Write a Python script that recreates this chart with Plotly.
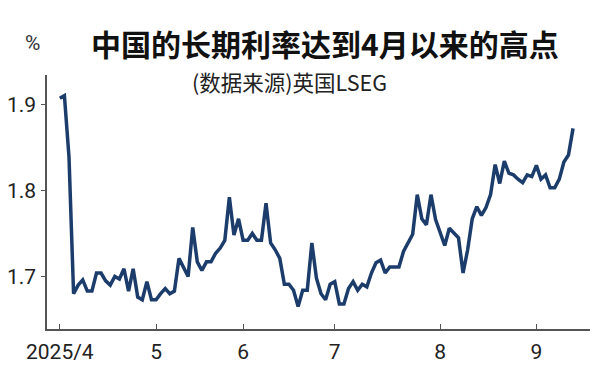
import pandas as pd
import plotly.graph_objects as go

# Trading days (China bond market), 2025-04-01 .. 2025-09-11
holidays = ["2025-04-04", "2025-05-01", "2025-05-02", "2025-05-05", "2025-06-02"]
days = pd.bdate_range("2025-04-01", "2025-09-11")
days = [d for d in days if d.strftime("%Y-%m-%d") not in holidays]
dates = [d.strftime("%Y-%m-%d") for d in days]

# 10-year yield (%)
yields = [
    1.907, 1.910, 1.839, 1.680, 1.690, 1.696, 1.683, 1.683, 1.704, 1.704,
    1.695, 1.690, 1.700, 1.697, 1.709, 1.683, 1.709, 1.676, 1.673, 1.694,
    1.673, 1.673, 1.680, 1.686, 1.680, 1.683, 1.721, 1.711, 1.700, 1.757,
    1.717, 1.707, 1.717, 1.717, 1.727, 1.733, 1.742, 1.792, 1.748, 1.767,
    1.742, 1.742, 1.750, 1.742, 1.742, 1.785, 1.739, 1.731, 1.721, 1.691,
    1.691, 1.684, 1.665, 1.684, 1.684, 1.739, 1.698, 1.680, 1.673, 1.691,
    1.694, 1.668, 1.668, 1.686, 1.694, 1.684, 1.691, 1.688, 1.704, 1.716,
    1.719, 1.704, 1.711, 1.711, 1.711, 1.729, 1.739, 1.749, 1.795, 1.767,
    1.760, 1.795, 1.766, 1.752, 1.736, 1.756, 1.750, 1.745, 1.704, 1.731,
    1.767, 1.781, 1.771, 1.780, 1.795, 1.830, 1.808, 1.834, 1.820, 1.818,
    1.813, 1.809, 1.818, 1.816, 1.829, 1.813, 1.818, 1.803, 1.803, 1.813,
    1.833, 1.841, 1.872,
]
dates = dates[:len(yields)]

tick_dates = ["2025-04-01", "2025-05-06", "2025-06-03", "2025-07-01", "2025-08-01", "2025-09-01"]
tick_labels = ["2025/4", "5", "6", "7", "8", "9"]
y_ticks = [1.7, 1.8, 1.9]
y_tick_labels = ["1.7", "1.8", "1.9"]

title_text = "中国的长期利率达到4月以来的高点"
source_text = "(数据来源)英国LSEG"
unit_text = "%"

num_font = "Roboto, Liberation Sans, sans-serif"
cjk_font = "Noto Sans CJK SC, sans-serif"

fig = go.Figure()
fig.add_trace(go.Scatter(
    x=dates, y=yields, mode="lines",
    line=dict(color="#1c3d6b", width=3.5),
    hoverinfo="skip",
))

fig.update_layout(
    width=600, height=372,
    margin=dict(l=47, r=10, t=75, b=43, autoexpand=False),
    paper_bgcolor="white", plot_bgcolor="white",
    showlegend=False,
    font=dict(family=num_font, color="#222"),
)
fig.update_xaxes(
    type="category",
    range=[-2.8, 115.7],
    tickvals=tick_dates, ticktext=tick_labels,
    showgrid=False, zeroline=False, automargin=False,
    showline=True, linecolor="#555", linewidth=1.5,
    ticks="inside", ticklen=5, tickwidth=1.2, tickcolor="#555",
    tickfont=dict(family=num_font, size=21, color="#222"),
    ticklabelstandoff=3,
)
fig.update_yaxes(
    range=[1.639, 1.934],
    tickvals=y_ticks, ticktext=y_tick_labels,
    showgrid=False, zeroline=False, automargin=False,
    showline=True, linecolor="#555", linewidth=1.5,
    ticks="outside", ticklen=4, tickwidth=1.2, tickcolor="#555",
    tickfont=dict(family=num_font, size=21, color="#222"),
    ticklabelstandoff=1,
)

fig.add_annotation(
    text=title_text, xref="paper", yref="paper", x=0.512, y=1.125,
    xanchor="center", yanchor="middle", showarrow=False,
    font=dict(family=cjk_font, size=30, color="#111", weight="bold"),
)
fig.add_annotation(
    text=source_text, xref="paper", yref="paper", x=0.4475, y=0.975,
    xanchor="center", yanchor="middle", showarrow=False,
    font=dict(family=cjk_font, size=21.5, color="#222"),
)
fig.add_annotation(
    text=unit_text, xref="paper", yref="paper", x=-0.0276, y=1.125,
    xanchor="center", yanchor="middle", showarrow=False,
    font=dict(family=num_font, size=21, color="#333"),
)

fig.write_html(
    "out.html",
    config={"displayModeBar": False},
    post_script="document.body.style.margin='0';document.body.style.padding='0';",
)
